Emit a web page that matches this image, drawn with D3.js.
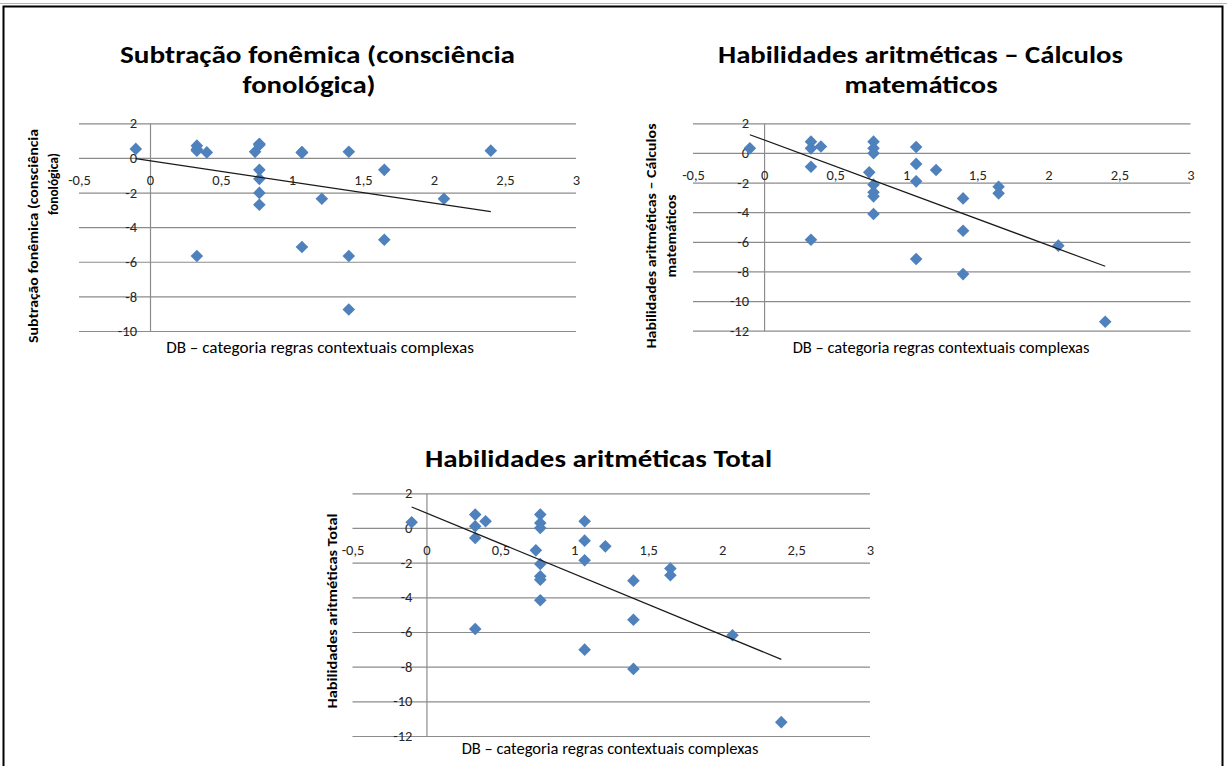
<!DOCTYPE html>
<html>
<head>
<meta charset="utf-8">
<script src="https://cdn.jsdelivr.net/npm/d3@7"></script>
<style>
  html, body { margin: 0; padding: 0; background: #fff; }
  svg { display: block; }
</style>
</head>
<body>
<svg id="chart" width="1227" height="766"></svg>
<script>
// ---- data -------------------------------------------------------------
const xAxisTitle = "DB – categoria regras contextuais complexas";

// DB score of each participant (shared horizontal variable)
const dbScores = [-0.10, 0.33, 0.33, 0.33, 0.33, 0.40, 0.74,
  0.77, 0.77, 0.77, 0.77, 0.77, 0.77, 0.77,
  1.07, 1.07, 1.07, 1.07, 1.21, 1.40, 1.40, 1.40, 1.65, 1.65, 2.07, 2.40];

const subtracaoFonemica = [0.52, 0.71, 0.50, 0.42, -5.67, 0.32, 0.35,
  0.80, 0.80, 0.75, -0.69, -1.21, -2.02, -2.71,
  0.32, 0.32, 0.32, -5.15, -2.36, 0.36, -5.67, -8.76, -0.69, -4.73, -2.36, 0.42];

const calculosMatematicos = [0.31, 0.76, 0.31, -0.93, -5.86, 0.43, -1.31,
  0.76, 0.31, -0.02, -2.14, -2.66, -2.93, -4.12,
  0.40, -0.74, -1.92, -7.16, -1.15, -3.07, -5.25, -8.18, -2.28, -2.73, -6.26, -11.40];

const habilidadesTotal = [0.33, 0.77, 0.10, -0.58, -5.83, 0.39, -1.29,
  0.77, 0.29, 0.00, -2.08, -2.79, -2.98, -4.17,
  0.39, -0.73, -1.86, -7.02, -1.06, -3.04, -5.29, -8.13, -2.34, -2.73, -6.19, -11.20];

const xTicks = [-0.5, 0, 0.5, 1, 1.5, 2, 2.5, 3];
const yTicksSubtracao = [2, 0, -2, -4, -6, -8, -10];
const yTicksHabilidades = [2, 0, -2, -4, -6, -8, -10, -12];

const titleSubtracao = ["Subtração fonêmica (consciência", "fonológica)"];
const titleCalculos = ["Habilidades aritméticas – Cálculos", "matemáticos"];
const titleTotal = ["Habilidades aritméticas Total"];
const yTitleSubtracao = ["Subtração fonêmica (consciência", "fonológica)"];
const yTitleCalculos = ["Habilidades aritméticas – Cálculos", "matemáticos"];
const yTitleTotal = ["Habilidades aritméticas Total"];

// ---- styling ----------------------------------------------------------
const FONT = "Carlito, Lato, 'Open Sans', sans-serif";
const MARKER = "#4F81BD";
const GRID = "#8c8c8c";
const TITLE_SIZE = 24.5;
const TICK_SIZE = 14.5;

const numFmt = d3.formatLocale({
  decimal: ",", thousands: ".", grouping: [3], currency: ["", ""], minus: "-"
}).format("~g");

const svg = d3.select("#chart");

// sheet frame
svg.append("line").attr("x1", 0).attr("x2", 1227).attr("y1", 3.5).attr("y2", 3.5)
  .attr("stroke", "#b4b4b4").attr("stroke-width", 1);
svg.append("rect").attr("x", 3.5).attr("y", 6.5).attr("width", 1219).attr("height", 800)
  .attr("fill", "none").attr("stroke", "#000").attr("stroke-width", 2);

// scale a text element's font so that it spans the given width
function fitWidth(sel, width) {
  const node = sel.node();
  const size = parseFloat(sel.attr("font-size"));
  const w = node.getComputedTextLength();
  if (w > 0) sel.attr("font-size", size * width / w);
  return sel;
}

const panels = [
  {
    values: subtracaoFonemica, yTicks: yTicksSubtracao,
    left: 79, right: 576, top: 123.3, bottom: 331,
    title: titleSubtracao,
    titlePos: [{x: 317.5, y: 63, w: 395}, {x: 309, y: 93, w: 133}],
    yTitle: yTitleSubtracao,
    yTitlePos: [{x: 33, y: 236, len: 214}, {x: 53, y: 184, len: 62}],
    xTitlePos: {x: 320, y: 347, w: 308},
    yLabelPad: 13
  },
  {
    values: calculosMatematicos, yTicks: yTicksHabilidades,
    left: 693, right: 1190.5, top: 123.3, bottom: 330.7,
    title: titleCalculos,
    titlePos: [{x: 920.5, y: 63, w: 405}, {x: 921, y: 93, w: 153}],
    yTitle: yTitleCalculos,
    yTitlePos: [{x: 651, y: 236, len: 225}, {x: 671, y: 236, len: 83}],
    xTitlePos: {x: 941, y: 347, w: 297},
    yLabelPad: 15
  },
  {
    values: habilidadesTotal, yTicks: yTicksHabilidades,
    left: 352.5, right: 870, top: 493.3, bottom: 736,
    title: titleTotal,
    titlePos: [{x: 598.5, y: 466.5, w: 347}],
    yTitle: yTitleTotal,
    yTitlePos: [{x: 332, y: 611, len: 195}],
    xTitlePos: {x: 610, y: 748, w: 297},
    yLabelPad: 14
  }
];

panels.forEach(p => {
  const g = svg.append("g");
  const yMin = d3.min(p.yTicks), yMax = d3.max(p.yTicks);
  const x = d3.scaleLinear().domain([d3.min(xTicks), d3.max(xTicks)]).range([p.left, p.right]);
  const y = d3.scaleLinear().domain([yMin, yMax]).range([p.bottom, p.top]);

  // horizontal gridlines
  g.append("g")
    .attr("transform", `translate(${p.left},0)`)
    .call(d3.axisLeft(y).tickValues(p.yTicks).tickSize(-(p.right - p.left)).tickFormat(""))
    .call(s => s.select(".domain").remove())
    .call(s => s.selectAll("line").attr("stroke", GRID).attr("stroke-width", 1.2));

  // vertical axis at x = 0
  g.append("g")
    .attr("transform", `translate(${x(0)},0)`)
    .call(d3.axisLeft(y).tickValues(p.yTicks).tickSize(0).tickPadding(p.yLabelPad).tickFormat(numFmt))
    .attr("font-family", FONT).attr("font-size", TICK_SIZE)
    .call(s => s.select(".domain").attr("stroke", GRID).attr("stroke-width", 1.2))
    .call(s => s.selectAll("text").attr("fill", "#262626"));

  // horizontal axis labels, placed below the zero line
  g.append("g")
    .attr("transform", `translate(0,${y(0)})`)
    .call(d3.axisBottom(x).tickValues(xTicks).tickSize(0).tickPadding(17).tickFormat(numFmt))
    .attr("font-family", FONT).attr("font-size", TICK_SIZE)
    .call(s => s.select(".domain").remove())
    .call(s => s.selectAll("text").attr("fill", "#262626"));

  // markers
  const pts = dbScores.map((d, i) => ({x: d, y: p.values[i]}));
  g.append("g").selectAll("path")
    .data(pts)
    .join("path")
    .attr("transform", d => `translate(${x(d.x)},${y(d.y)})`)
    .attr("d", "M0,-6.3L6.3,0L0,6.3L-6.3,0Z")
    .attr("fill", MARKER);

  // linear trend line (least squares)
  const mx = d3.mean(dbScores), my = d3.mean(p.values);
  const slope = d3.sum(dbScores, (v, i) => (v - mx) * (p.values[i] - my)) /
                d3.sum(dbScores, v => (v - mx) * (v - mx));
  const intercept = my - slope * mx;
  const ext = d3.extent(dbScores);
  g.append("path")
    .datum(ext.map(v => ({x: v, y: intercept + slope * v})))
    .attr("d", d3.line().x(d => x(d.x)).y(d => y(d.y)))
    .attr("fill", "none").attr("stroke", "#1a1a1a").attr("stroke-width", 1.2);

  // chart title
  p.title.forEach((t, i) => {
    const pos = p.titlePos[i];
    g.append("text")
      .attr("x", pos.x).attr("y", pos.y)
      .attr("text-anchor", "middle")
      .attr("font-family", FONT).attr("font-weight", "bold").attr("font-size", TITLE_SIZE)
      .attr("textLength", pos.w).attr("lengthAdjust", "spacingAndGlyphs")
      .attr("fill", "#000")
      .text(t);
  });

  // vertical axis title
  p.yTitle.forEach((t, i) => {
    const pos = p.yTitlePos[i];
    g.append("text")
      .attr("transform", `translate(${pos.x},${pos.y}) rotate(-90)`)
      .attr("text-anchor", "middle")
      .attr("dy", "0.35em")
      .attr("font-family", FONT).attr("font-weight", "bold").attr("font-size", 13)
      .attr("textLength", pos.len).attr("lengthAdjust", "spacingAndGlyphs")
      .attr("fill", "#000")
      .text(t);
  });

  // horizontal axis title
  const xt = g.append("text")
    .attr("x", p.xTitlePos.x).attr("y", p.xTitlePos.y)
    .attr("dy", "0.35em")
    .attr("text-anchor", "middle")
    .attr("font-family", FONT).attr("font-size", 13)
    .attr("fill", "#000")
    .text(xAxisTitle);
  fitWidth(xt, p.xTitlePos.w);
});
</script>
</body>
</html>
